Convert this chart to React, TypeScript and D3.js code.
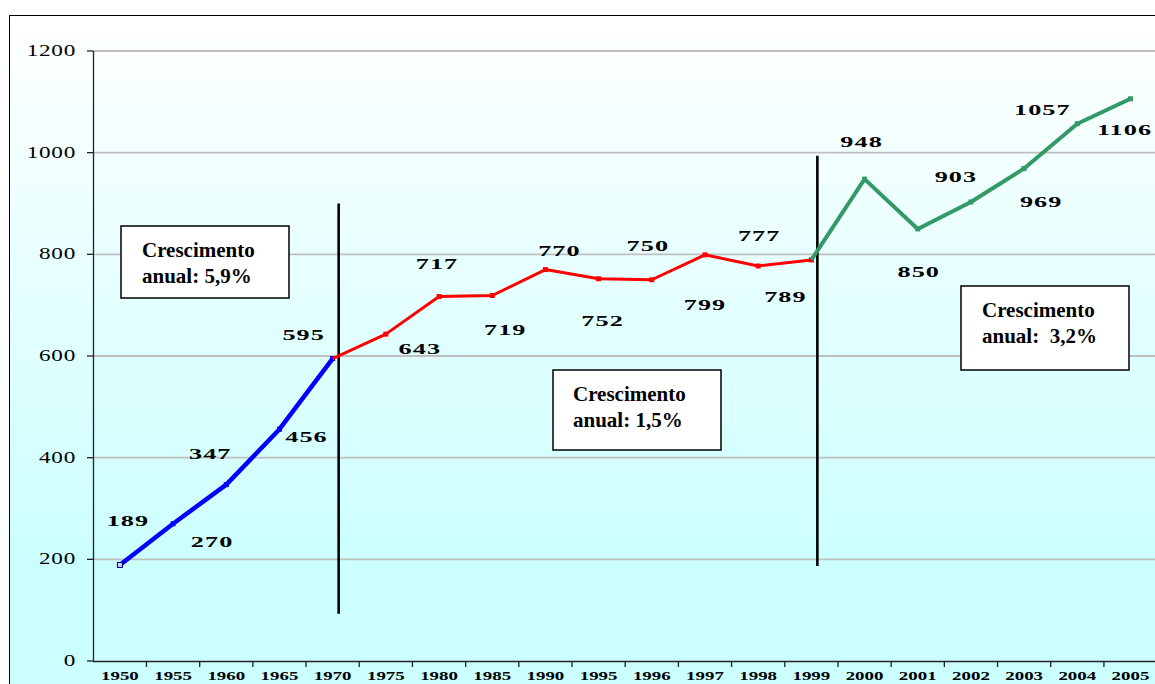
import React, { useEffect, useRef } from "react";
import * as d3 from "d3";

const years = ["1950", "1955", "1960", "1965", "1970", "1975", "1980", "1985", "1990", "1995",
  "1996", "1997", "1998", "1999", "2000", "2001", "2002", "2003", "2004", "2005"];
const values = [189, 270, 347, 456, 595, 643, 717, 719, 770, 752,
  750, 799, 777, 789, 948, 850, 903, 969, 1057, 1106];
// which stretch of the series each segment covers (first year, last year)
const segments = [
  { from: "1950", to: "1970", color: "#0000ff", width: 4.5 },
  { from: "1970", to: "1999", color: "#ff0000", width: 3 },
  { from: "1999", to: "2005", color: "#339966", width: 4 },
];
// black dividers, drawn just right of a year, spanning a value range
const dividers = [
  { year: "1970", top: 900, bottom: 93 },
  { year: "1999", top: 994, bottom: 187 },
];
const yTicks = [0, 200, 400, 600, 800, 1000, 1200];
const notes = [
  { line1: "Crescimento", line2: "anual: 5,9%" },
  { line1: "Crescimento", line2: "anual: 1,5%" },
  { line1: "Crescimento", line2: "anual:  3,2%" },
];

// layout only: where each value label sits relative to its point (px)
const labelOffset = [
  [8, -44], [39, 18], [-16, -31], [27, 8], [-29, -24], [34, 15], [-2, -33], [13, 34],
  [14, -19], [4, 42], [-4, -34], [0, 50], [1, -30], [-26, 37], [-3, -37], [1, 43],
  [-15, -25], [17, 34], [-35, -14], [-6, 31],
];
const noteBoxes = [
  { x: 121, y: 226, w: 168, h: 72, tx: 142, ty: 257 },
  { x: 553, y: 370, w: 168, h: 80, tx: 573, ty: 401 },
  { x: 961, y: 286, w: 168, h: 84, tx: 982, ty: 317 },
];

const serif = "Liberation Serif, DejaVu Serif, serif";

export default function App() {
  const ref = useRef<SVGSVGElement | null>(null);

  useEffect(() => {
    const svg = d3.select(ref.current);
    svg.selectAll("*").remove();

    const W = 1155, H = 684;
    const x = d3.scaleBand().domain(years).range([93.3, 1157.1]);
    const y = d3.scaleLinear().domain([0, 1200]).range([661, 51]);
    const cx = (yr: string) => (x(yr) as number) + x.bandwidth() / 2;

    const defs = svg.append("defs");
    const grad = defs.append("linearGradient").attr("id", "bg")
      .attr("x1", 0).attr("y1", 0).attr("x2", 0).attr("y2", 1);
    grad.append("stop").attr("offset", 0).attr("stop-color", "#ffffff");
    grad.append("stop").attr("offset", 0.8).attr("stop-color", "#ccffff");
    grad.append("stop").attr("offset", 1).attr("stop-color", "#ccffff");

    svg.append("rect").attr("width", W).attr("height", H).attr("fill", "#fff");
    svg.append("rect").attr("x", 9.5).attr("y", 15.5).attr("width", W).attr("height", H)
      .attr("fill", "url(#bg)").attr("stroke", "#000").attr("stroke-width", 1);

    const stretched = (g: any, tx: number, ty: number, sx: number) =>
      g.append("text").attr("transform", `translate(${tx},${ty}) scale(${sx},1)`)
        .attr("font-family", serif);

    // grid lines
    svg.append("g").selectAll("line").data(yTicks.filter((t) => t > 0)).join("line")
      .attr("x1", 93).attr("x2", W).attr("y1", (d) => y(d)).attr("y2", (d) => y(d))
      .attr("stroke", "#bfbfbf").attr("stroke-width", 1.8);

    // y axis
    const ya = svg.append("g");
    ya.append("line").attr("x1", 93.5).attr("x2", 93.5).attr("y1", y(1200)).attr("y2", y(0))
      .attr("stroke", "#222").attr("stroke-width", 1.3);
    yTicks.forEach((t) => {
      ya.append("line").attr("x1", 87).attr("x2", 93).attr("y1", y(t)).attr("y2", y(t))
        .attr("stroke", "#222").attr("stroke-width", 1.3);
      stretched(ya, 76, y(t) + 5, 1.45)
        .attr("text-anchor", "end").attr("font-size", 16)
        .attr("letter-spacing", 0.5).attr("fill", "#000").text(String(t));
    });

    // x axis
    const xa = svg.append("g");
    xa.append("line").attr("x1", 93).attr("x2", W).attr("y1", 661.5).attr("y2", 661.5)
      .attr("stroke", "#222").attr("stroke-width", 1.3);
    years.forEach((yr, i) => {
      const tx = x(yr) as number;
      if (i > 0) xa.append("line").attr("x1", tx).attr("x2", tx).attr("y1", 661).attr("y2", 667)
        .attr("stroke", "#222").attr("stroke-width", 1.3);
      stretched(xa, cx(yr), 680, 1.4)
        .attr("text-anchor", "middle").attr("font-size", 13.5)
        .attr("font-weight", "bold").attr("fill", "#000").text(yr);
    });

    // dividers
    dividers.forEach((d) => {
      svg.append("line").attr("x1", cx(d.year) + 6).attr("x2", cx(d.year) + 6)
        .attr("y1", y(d.top)).attr("y2", y(d.bottom))
        .attr("stroke", "#000").attr("stroke-width", 2.6);
    });

    // line segments
    const pts = years.map((yr, i) => ({ yr, i, v: values[i] }));
    const line = d3.line<any>().x((d) => cx(d.yr)).y((d) => y(d.v));
    segments.forEach((s) => {
      const a = years.indexOf(s.from), b = years.indexOf(s.to);
      const seg = pts.slice(a, b + 1);
      svg.append("path").datum(seg).attr("d", line).attr("fill", "none")
        .attr("stroke", s.color).attr("stroke-width", s.width).attr("stroke-linejoin", "round");
      seg.forEach((p) => {
        if (p.i === 0) {
          svg.append("rect").attr("x", cx(p.yr) - 2.5).attr("y", y(p.v) - 2.5)
            .attr("width", 5).attr("height", 5).attr("fill", "#ccccff")
            .attr("stroke", "#000080").attr("stroke-width", 1);
        } else if (!(p.yr === s.from && a > 0)) {
          svg.append("rect").attr("x", cx(p.yr) - 2.5).attr("y", y(p.v) - 2.5)
            .attr("width", 5).attr("height", 5).attr("fill", s.color);
        }
      });
    });

    // value labels
    pts.forEach((p) => {
      const [dx, dy] = labelOffset[p.i];
      stretched(svg, cx(p.yr) + dx, y(p.v) + dy + 5, 1.75)
        .attr("text-anchor", "middle").attr("font-size", 15)
        .attr("font-weight", "bold").attr("letter-spacing", 0.6).attr("fill", "#000")
        .text(String(p.v));
    });

    // note boxes
    notes.forEach((n, i) => {
      const b = noteBoxes[i];
      svg.append("rect").attr("x", b.x).attr("y", b.y).attr("width", b.w).attr("height", b.h)
        .attr("fill", "#fff").attr("stroke", "#000").attr("stroke-width", 1.5);
      [n.line1, n.line2].forEach((t, k) => {
        svg.append("text").attr("x", b.tx).attr("y", b.ty + k * 25.5)
          .attr("font-family", serif).attr("font-size", 21).attr("font-weight", "bold")
          .attr("fill", "#000").style("white-space", "pre").text(t);
      });
    });
  }, []);

  return (
    <svg ref={ref} width={1155} height={684}
      style={{ position: "absolute", left: 0, top: 0, display: "block" }} />
  );
}
